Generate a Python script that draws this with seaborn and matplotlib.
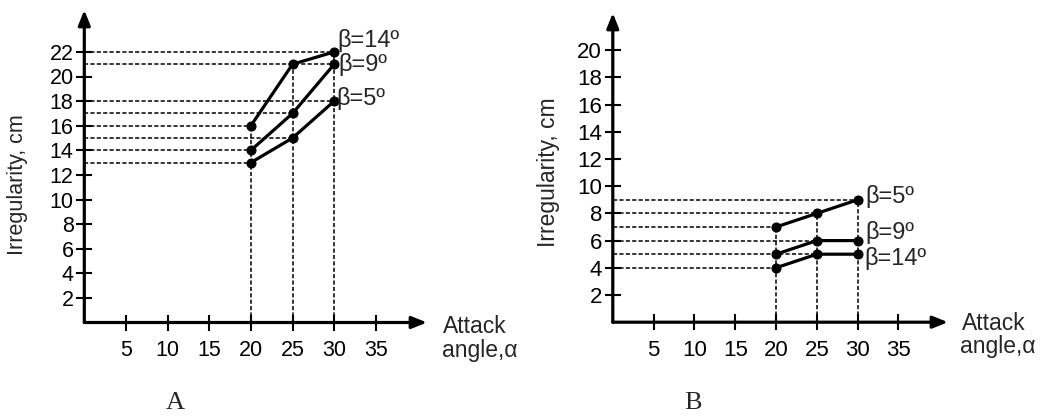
import matplotlib
matplotlib.use("Agg")
import matplotlib.pyplot as plt
import seaborn as sns
import pandas as pd

# ---- data ----
alpha = [20, 25, 30]
betas_A = ["β=14º", "β=9º", "β=5º"]
irr_A_b14 = [16, 21, 22]
irr_A_b9 = [14, 17, 21]
irr_A_b5 = [13, 15, 18]

betas_B = ["β=5º", "β=9º", "β=14º"]
irr_B_b5 = [7, 8, 9]
irr_B_b9 = [5, 6, 6]
irr_B_b14 = [4, 5, 5]

xticks = [5, 10, 15, 20, 25, 30, 35]
yticks_A = [2, 4, 6, 8, 10, 12, 14, 16, 18, 20, 22]
yticks_B = [2, 4, 6, 8, 10, 12, 14, 16, 18, 20]

sns.set_style("white")
plt.rcParams["font.family"] = ["Liberation Sans", "DejaVu Sans"]
plt.rcParams["lines.scale_dashes"] = False

W, H = 1044, 418
fig = plt.figure(figsize=(W / 100, H / 100), dpi=100)


def make_df(names, series):
    rows = []
    for n, s in zip(names, series):
        for a, v in zip(alpha, s):
            rows.append({"alpha": a, "irr": v, "beta": n})
    return pd.DataFrame(rows)


dfA = make_df(betas_A, [irr_A_b14, irr_A_b9, irr_A_b5])
dfB = make_df(betas_B, [irr_B_b5, irr_B_b9, irr_B_b14])


def px_axes(left, right, top, bottom):
    return fig.add_axes([left / W, (H - bottom) / H, (right - left) / W, (bottom - top) / H])


axA = px_axes(84.3, 427, 10, 322.5)
axA.set_xlim(0, (427 - 84.3) / 8.33)
axA.set_ylim(0, (322.5 - 10) / 12.3)

axB = px_axes(612.8, 948, 13, 322.2)
axB.set_xlim(0, (948 - 612.8) / 8.16)
axB.set_ylim(0, (322.2 - 13) / 13.6)

dash = (0, (3, 1.6))


def draw(ax, df, yticks, tsize):
    # dashed guide lines
    for y, g in df.groupby("irr"):
        ax.hlines(y, 0, g["alpha"].max(), colors="black", linestyles=[dash], lw=1.1, zorder=1)
    for x, g in df.groupby("alpha"):
        ax.vlines(x, 0, g["irr"].max(), colors="black", linestyles=[dash], lw=1.1, zorder=1)
    sns.lineplot(data=df, x="alpha", y="irr", hue="beta", palette=["black"] * 3,
                 marker="o", markersize=6.5, markeredgecolor="black", linewidth=2.3,
                 estimator=None, legend=False, ax=ax, zorder=3)
    ax.set_xlabel("")
    ax.set_ylabel("")
    for s in ax.spines.values():
        s.set_visible(False)
    ax.set_xticks(xticks)
    ax.set_yticks(yticks)
    ax.tick_params(axis="both", direction="inout", length=11.5, width=1.5, color="black",
                   labelsize=tsize, labelcolor="black")
    ax.tick_params(axis="x", pad=7, bottom=True)
    ax.tick_params(axis="y", pad=2, left=True)
    ax.grid(False)
    ap = dict(arrowstyle="-|>,head_length=0.45,head_width=0.18", color="black", lw=2.3,
              mutation_scale=20, shrinkA=0, shrinkB=0)
    ax.annotate("", xy=(1, 0), xytext=(0, 0), xycoords="axes fraction", arrowprops=ap,
                annotation_clip=False)
    ax.annotate("", xy=(0, 1), xytext=(0, 0), xycoords="axes fraction", arrowprops=ap,
                annotation_clip=False)
    ax.set_facecolor("none")


draw(axA, dfA, yticks_A, 15.5)
draw(axB, dfB, yticks_B, 16)


def ftext(x, y, s, **kw):
    fig.text(x / W, (H - y) / H, s, **kw)


# y labels
ftext(18, 185, "Irregularity, cm", rotation=90, ha="center", va="center", fontsize=15.5)
ftext(548, 172, "Irregularity, cm", rotation=90, ha="center", va="center", fontsize=16.5)

# x labels
ftext(443, 333, "Attack", ha="left", va="baseline", fontsize=16.5)
ftext(442, 357, "angle,α", ha="left", va="baseline", fontsize=16.5)
ftext(962, 330, "Attack", ha="left", va="baseline", fontsize=16.5)
ftext(960, 353, "angle,α", ha="left", va="baseline", fontsize=16.5)

# series labels
for name, (x, y) in zip(betas_A, [(337, 40), (338, 64), (336, 99)]):
    ftext(x, y, name, ha="left", va="center", fontsize=17)
for name, (x, y) in zip(betas_B, [(865, 197), (865, 233), (864, 258)]):
    ftext(x, y, name, ha="left", va="center", fontsize=17)

# panel letters
ftext(175, 403, "A", ha="center", va="center", fontsize=19, family=["Liberation Serif", "DejaVu Serif"])
ftext(693, 403, "B", ha="center", va="center", fontsize=19, family=["Liberation Serif", "DejaVu Serif"])

fig.savefig("out.png", dpi=100, facecolor="white")
